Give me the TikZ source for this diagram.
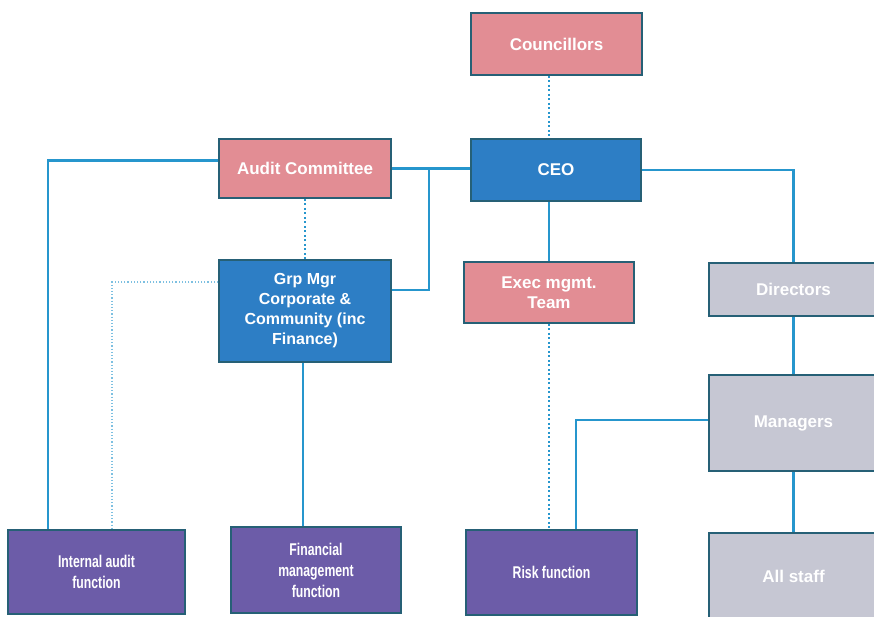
\documentclass[tikz,border=0pt]{standalone}
\usepackage{fontspec}
\setmainfont{Liberation Sans}
\newfontfamily\narrowfont[FakeStretch=0.72]{Liberation Sans}

\definecolor{boxpink}{RGB}{226,141,148}
\definecolor{boxblue}{RGB}{45,126,197}
\definecolor{boxgrey}{RGB}{198,199,211}
\definecolor{boxpurple}{RGB}{108,92,168}
\definecolor{boxedge}{RGB}{38,96,118}
\definecolor{linkblue}{RGB}{38,150,205}

\begin{document}
\begin{tikzpicture}[x=1pt,y=-1pt]
				\tikzstyle{every node} = [rectangle,draw=boxedge,line width=1.5pt,text=white,align=center,inner sep=2pt];
				\tikzstyle{pinkbox} = [fill=boxpink,font=\bfseries\fontsize{17}{20}\selectfont];
				\tikzstyle{bluebox} = [fill=boxblue,font=\bfseries\fontsize{17}{20}\selectfont];
				\tikzstyle{greybox} = [fill=boxgrey,font=\bfseries\fontsize{17}{20}\selectfont];
				\tikzstyle{purplebox} = [fill=boxpurple,font=\narrowfont\bfseries\fontsize{17}{21}\selectfont];
				\tikzstyle{link} = [draw=linkblue,line width=2.5pt];
				\tikzstyle{dots} = [draw=linkblue,line width=2.5pt,dash pattern=on 2pt off 2.5pt];
				\tikzstyle{faintdots} = [draw=linkblue!60,line width=1.2pt,dash pattern=on 1.2pt off 2pt];
				\useasboundingbox (0,0) rectangle (874,616);
				\node[pinkbox,minimum width=171pt,minimum height=62pt] (councillors) at (556.5,44) {Councillors};
				\node[bluebox,minimum width=170pt,minimum height=62pt] (ceo) at (556,170) {CEO};
				\node[pinkbox,minimum width=172pt,minimum height=59pt] (audit) at (305,168.5) {Audit Committee};
				\node[bluebox,minimum width=172pt,minimum height=102pt,font=\bfseries\fontsize{16}{20}\selectfont] (grpmgr) at (305,311) {Grp Mgr\\Corporate \&\\Community (inc\\Finance)};
				\node[pinkbox,minimum width=170pt,minimum height=61pt] (exec) at (549,292.5) {Exec mgmt.\\Team};
				\node[greybox,minimum width=169pt,minimum height=53pt] (directors) at (793.5,289.5) {Directors};
				\node[greybox,minimum width=169pt,minimum height=96pt] (managers) at (793.5,423) {Managers};
				\node[greybox,minimum width=169pt,minimum height=87pt] (allstaff) at (793.5,576.5) {All staff};
				\node[purplebox,minimum width=177pt,minimum height=84pt] (intaudit) at (96.5,572) {Internal audit\\function};
				\node[purplebox,minimum width=170pt,minimum height=86pt] (finmgmt) at (316,570) {Financial\\management\\function};
				\node[purplebox,minimum width=171pt,minimum height=85pt] (risk) at (551.5,572.5) {Risk function};
				\draw[style=dots] ([xshift=-7.5pt]councillors.south) -- ([xshift=-7pt]ceo.north);
				\draw[style=link] ([yshift=8pt]audit.west) -| ([xshift=-48.5pt]intaudit.north);
				\draw[style=link] (audit.east) -- (audit.east -| ceo.west);
				\draw[style=link] ([yshift=21pt]grpmgr.east) -| ([xshift=37pt]audit.east);
				\draw[style=dots] (audit) -- (grpmgr);
				\draw[style=faintdots] ([yshift=29pt]grpmgr.west) -| ([xshift=15.5pt]intaudit.north);
				\draw[style=link] ([xshift=-2pt]grpmgr.south) -- ([xshift=-2pt]grpmgr.south |- finmgmt.north);
				\draw[style=link] (exec.north |- ceo.south) -- (exec.north);
				\draw[style=dots] (exec.south) -- (exec.south |- risk.north);
				\draw[style=link] (ceo.east) -| (directors.north);
				\draw[style=link] (directors) -- (managers);
				\draw[style=link] ([xshift=24.5pt]risk.north) |- ([yshift=3pt]managers.west);
				\draw[style=link] (managers) -- (allstaff);
			\end{tikzpicture}
\end{document}
